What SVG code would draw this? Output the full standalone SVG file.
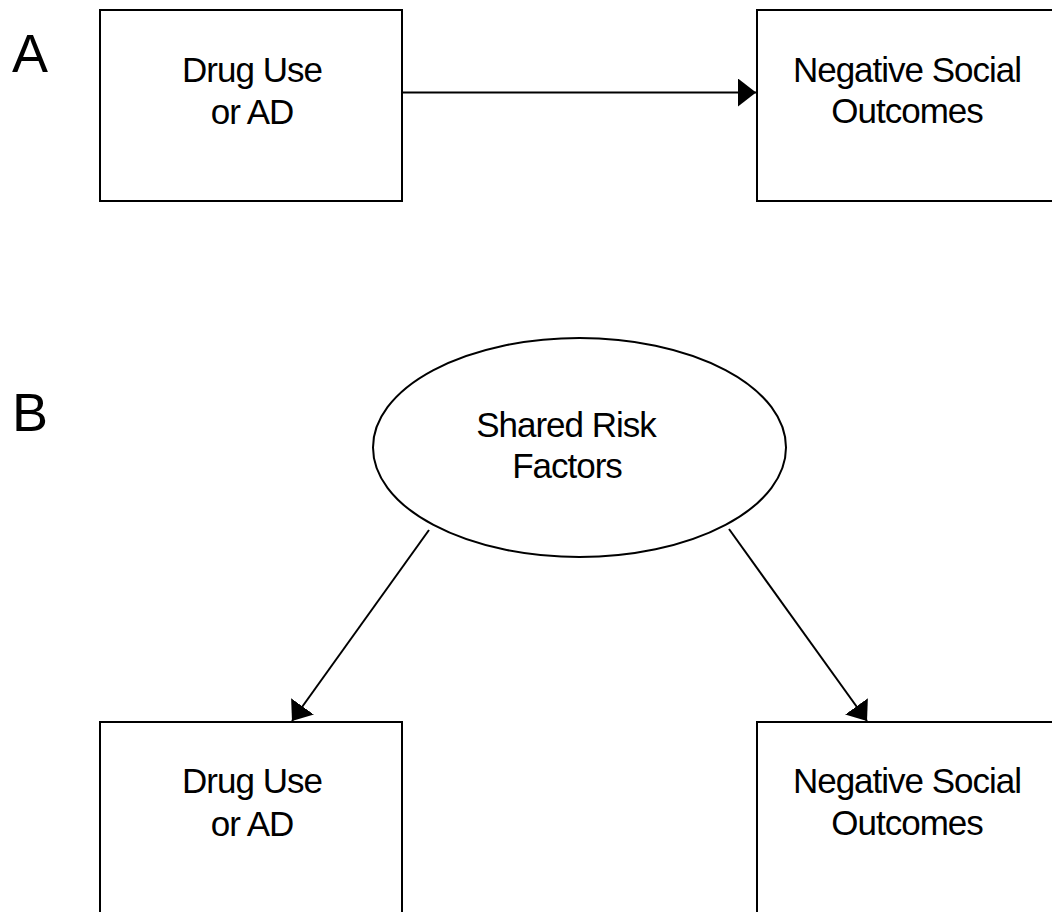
<svg xmlns="http://www.w3.org/2000/svg" width="1052" height="912" viewBox="0 0 1052 912">
<style>
.box{fill:#fff;stroke:#000;stroke-width:2}
.t{font-family:"Liberation Sans",Arial,sans-serif;font-size:35px;letter-spacing:-1px;text-anchor:middle;fill:#000}
.lbl{font-family:"Liberation Sans",Arial,sans-serif;font-size:54px;fill:#000}
.c{stroke:#000;stroke-width:2;fill:none;marker-end:url(#ah)}
</style>
<defs>
<marker id="ah" markerUnits="userSpaceOnUse" markerWidth="20" markerHeight="30" refX="18" refY="14" orient="auto">
<path d="M0,0 L18,14 L0,28 z" fill="#000"/>
</marker>
</defs>
<rect width="1052" height="912" fill="#fff"/>
<text class="lbl" x="12" y="72">A</text>
<text class="lbl" x="12" y="431">B</text>
<g id="a-drug">
<rect class="box" x="100" y="10" width="302" height="191"/>
<text class="t" x="252" y="82">Drug Use</text>
<text class="t" x="252" y="124">or AD</text>
</g>
<g id="a-neg">
<rect class="box" x="757" y="10" width="302" height="191"/>
<text class="t" x="907" y="82">Negative Social</text>
<text class="t" x="907" y="123">Outcomes</text>
</g>
<g id="b-risk">
<ellipse class="box" cx="579.5" cy="447.5" rx="206.5" ry="109.5"/>
<text class="t" x="566" y="437">Shared Risk</text>
<text class="t" x="567" y="478">Factors</text>
</g>
<g id="b-drug">
<rect class="box" x="100" y="722" width="302" height="200"/>
<text class="t" x="252" y="793">Drug Use</text>
<text class="t" x="252" y="836">or AD</text>
</g>
<g id="b-neg">
<rect class="box" x="757" y="722" width="302" height="200"/>
<text class="t" x="907" y="793">Negative Social</text>
<text class="t" x="907" y="835">Outcomes</text>
</g>
<g id="connectors">
<line class="c" x1="402" y1="92.5" x2="756" y2="92.5"/>
<line class="c" x1="429" y1="530" x2="292" y2="721"/>
<line class="c" x1="729" y1="529" x2="867" y2="721"/>
</g>
</svg>
